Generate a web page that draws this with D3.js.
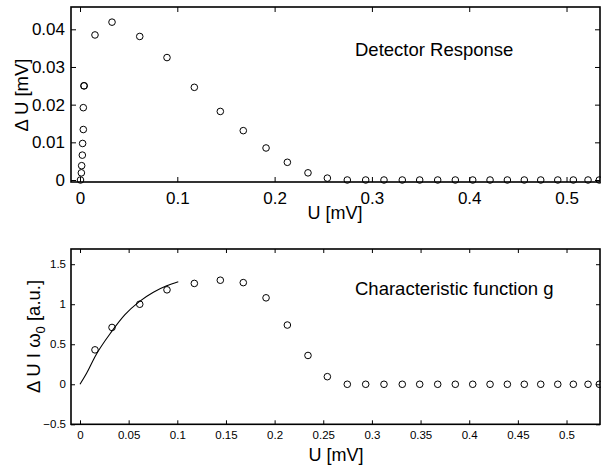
<!DOCTYPE html>
<html>
<head>
<meta charset="utf-8">
<script src="https://cdn.jsdelivr.net/npm/d3@7/dist/d3.min.js"></script>
<style>
  html, body { margin: 0; padding: 0; background: #fff; }
  svg { display: block; font-family: "Liberation Sans", Arial, Helvetica, sans-serif; }
</style>
</head>
<body>
<svg id="chart" width="601" height="466"></svg>
<script>
// ---- Data ----
// Top panel: detector response
const uTop = [0.0005, 0.0014, 0.0017, 0.0024, 0.0027, 0.0034, 0.0034, 0.0040, 0.0043,
  0.0154, 0.0329, 0.0614, 0.0894, 0.1175, 0.1442, 0.1678, 0.1912, 0.2131, 0.2343, 0.2542,
  0.2747, 0.2936, 0.3124, 0.3312, 0.3491, 0.3676, 0.3857, 0.4036, 0.4214, 0.4392, 0.4566,
  0.4735, 0.4910, 0.5070, 0.5221, 0.5337];
const dUTop = [0, 0.0019, 0.0038, 0.0066, 0.0097, 0.0134, 0.0192, 0.0250, 0.0250,
  0.0385, 0.0419, 0.0381, 0.0325, 0.0246, 0.0182, 0.0131, 0.0085, 0.0047, 0.0019, 0.0005,
  0, 0, 0, 0, 0, 0, 0, 0, 0, 0, 0,
  0, 0, 0, 0, 0];

// Bottom panel: characteristic function g
const uG = [0.0154, 0.0329, 0.0614, 0.0894, 0.1175, 0.1442, 0.1678, 0.1912, 0.2131, 0.2343,
  0.2542, 0.2747, 0.2936, 0.3124, 0.3312, 0.3491, 0.3676, 0.3857, 0.4036, 0.4214, 0.4392,
  0.4566, 0.4735, 0.4910, 0.5070, 0.5221, 0.5337];
const gVals = [0.43, 0.71, 1.00, 1.18, 1.26, 1.30, 1.27, 1.08, 0.74, 0.36,
  0.095, 0, 0, 0, 0, 0, 0, 0, 0, 0, 0,
  0, 0, 0, 0, 0, 0];

// Fitted curve in bottom panel
const curveU = [0, 0.0069, 0.0154, 0.0326, 0.0462, 0.0606, 0.0754, 0.0891, 0.101];
const curveG = [0, 0.14, 0.345, 0.66, 0.87, 1.03, 1.15, 1.23, 1.28];

// Tick values
const topXTicks = [0, 0.1, 0.2, 0.3, 0.4, 0.5];
const topYTicks = [0, 0.01, 0.02, 0.03, 0.04];
const botXTicks = [0, 0.05, 0.1, 0.15, 0.2, 0.25, 0.3, 0.35, 0.4, 0.45, 0.5];
const botYTicks = [-0.5, 0, 0.5, 1, 1.5];

// ---- Layout ----
const svg = d3.select("#chart");
const L = 71, R = 600;

function panel(cfg) {
  const x = d3.scaleLinear().domain(cfg.xDomain).range([L, R]);
  const y = d3.scaleLinear().domain(cfg.yDomain).range([cfg.bottom, cfg.top]);
  const g = svg.append("g");

  // axes with inward ticks
  const fmt = cfg.fmt;
  const ax = g.append("g").attr("transform", `translate(0,${cfg.bottom})`)
    .call(d3.axisBottom(x).tickValues(cfg.xTicks).tickSizeInner(-cfg.tick).tickSizeOuter(0)
      .tickPadding(cfg.xPad).tickFormat(fmt));
  const axT = g.append("g").attr("transform", `translate(0,${cfg.top})`)
    .call(d3.axisTop(x).tickValues(cfg.xTicks).tickSizeInner(-cfg.tick).tickSizeOuter(0).tickFormat(""));
  const ay = g.append("g").attr("transform", `translate(${L},0)`)
    .call(d3.axisLeft(y).tickValues(cfg.yTicks).tickSizeInner(-cfg.tick).tickSizeOuter(0)
      .tickPadding(cfg.yPad).tickFormat(fmt));
  const ayR = g.append("g").attr("transform", `translate(${R},0)`)
    .call(d3.axisRight(y).tickValues(cfg.yTicks).tickSizeInner(-cfg.tick).tickSizeOuter(0).tickFormat(""));
  [ax, axT, ay, ayR].forEach(a => {
    a.select(".domain").remove();
    a.selectAll("line").attr("stroke", "#000").attr("stroke-width", 1);
    a.selectAll("text").attr("fill", "#000").attr("font-size", cfg.tickFont)
      .attr("font-family", "Liberation Sans, Arial, sans-serif");
  });

  // frame
  g.append("rect").attr("x", L).attr("y", cfg.top)
    .attr("width", R - L).attr("height", cfg.bottom - cfg.top)
    .attr("fill", "none").attr("stroke", "#000").attr("stroke-width", 1.6);

  return { x, y, g };
}

// Top panel
const P1 = panel({
  xDomain: [-0.00925, 0.5344], yDomain: [-0.00053, 0.04592],
  top: 7, bottom: 182, xTicks: topXTicks, yTicks: topYTicks,
  tick: 5, xPad: 9.5, yPad: 6, tickFont: 17,
  fmt: d => String(+d.toFixed(2))
});
P1.g.append("g").selectAll("circle").data(uTop.map((u, i) => [u, dUTop[i]])).join("circle")
  .attr("cx", d => P1.x(d[0])).attr("cy", d => P1.y(d[1])).attr("r", 3.3)
  .attr("fill", "none").attr("stroke", "#000").attr("stroke-width", 1);
P1.g.append("text").attr("x", 355).attr("y", 55.5).attr("font-size", 18.5).text("Detector Response");
P1.g.append("text").attr("x", 335).attr("y", 219).attr("text-anchor", "middle").attr("font-size", 18).text("U [mV]");
P1.g.append("text").attr("transform", "translate(28,95) rotate(-90)").attr("text-anchor", "middle")
  .attr("font-size", 18.5).text("\u0394 U [mV]");

// Bottom panel
const P2 = panel({
  xDomain: [-0.00925, 0.5344], yDomain: [-0.5, 1.69],
  top: 249, bottom: 424.3, xTicks: botXTicks, yTicks: botYTicks,
  tick: 4, xPad: 7, yPad: 5, tickFont: 11.5,
  fmt: d => d < 0 ? "\u2212" + String(+Math.abs(d).toFixed(2)) : String(+d.toFixed(2))
});
const line = d3.line().x(d => P2.x(d[0])).y(d => P2.y(d[1])).curve(d3.curveMonotoneX);
P2.g.append("path").datum(curveU.map((u, i) => [u, curveG[i]]))
  .attr("d", line).attr("fill", "none").attr("stroke", "#000").attr("stroke-width", 1.1);
P2.g.append("g").selectAll("circle").data(uG.map((u, i) => [u, gVals[i]])).join("circle")
  .attr("cx", d => P2.x(d[0])).attr("cy", d => P2.y(d[1])).attr("r", 3.3)
  .attr("fill", "none").attr("stroke", "#000").attr("stroke-width", 1);
P2.g.append("text").attr("x", 355).attr("y", 295).attr("font-size", 18.5).text("Characteristic function g");
P2.g.append("text").attr("x", 336).attr("y", 461).attr("text-anchor", "middle").attr("font-size", 18).text("U [mV]");
const yl = P2.g.append("text").attr("transform", "translate(40,336.5) rotate(-90)").attr("text-anchor", "middle")
  .attr("font-size", 18.5);
yl.append("tspan").text("\u0394 U I \u03C9");
yl.append("tspan").attr("dy", 5).attr("font-size", 13).text("0");
yl.append("tspan").attr("dy", -5).text(" [a.u.]");
</script>
</body>
</html>
